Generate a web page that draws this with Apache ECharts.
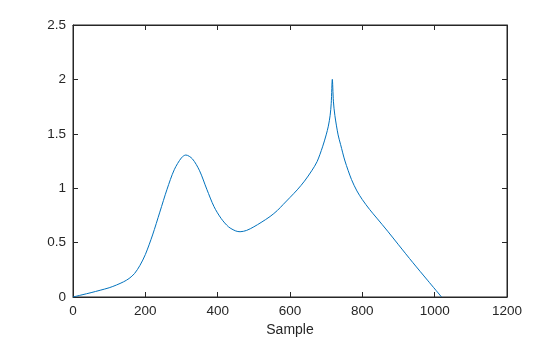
<!DOCTYPE html>
<html>
<head>
<meta charset="utf-8">
<script src="https://cdn.jsdelivr.net/npm/echarts@6/dist/echarts.min.js"></script>
<style>html,body{margin:0;padding:0;background:#fff;overflow:hidden}#c{width:560px;height:337px}</style>
</head>
<body>
<div id="c"></div>
<script>
const sampleX = [0, 25, 50, 75, 100, 120, 140, 155, 170, 185, 200, 220, 240, 260, 280, 300, 312, 330, 350, 370, 390, 410, 430, 450, 462, 480, 500, 520, 545, 565, 581, 600, 620, 640, 660, 675, 690, 700, 706, 711, 714, 717, 720, 724, 733, 740, 752, 770, 785, 800, 820, 840, 870, 900, 940, 980, 1019];
const sampleY = [0, 0.02, 0.04, 0.062, 0.085, 0.11, 0.14, 0.17, 0.215, 0.29, 0.39, 0.57, 0.78, 0.99, 1.17, 1.28, 1.305, 1.27, 1.16, 0.99, 0.83, 0.72, 0.645, 0.607, 0.6, 0.612, 0.645, 0.685, 0.74, 0.795, 0.85, 0.915, 0.985, 1.065, 1.16, 1.245, 1.38, 1.49, 1.57, 1.67, 1.78, 2.0, 1.80, 1.67, 1.49, 1.40, 1.25, 1.08, 0.975, 0.895, 0.805, 0.725, 0.605, 0.48, 0.315, 0.155, 0];
const xTicks = [0, 200, 400, 600, 800, 1000, 1200];
const yTicks = [0, 0.5, 1, 1.5, 2, 2.5];

const txt = '#262626';
const fontFam = 'Liberation Sans, Arial, Helvetica, sans-serif';
const chart = echarts.init(document.getElementById('c'), null, {renderer: 'canvas'});
const lineStyle = {color: txt, width: 1};
const tick = {show: true, inside: true, length: 5, lineStyle: {color: txt, width: 1}};
const fmt = v => String(v);
chart.setOption({
  animation: false,
  backgroundColor: '#fff',
  grid: {left: 73, right: 53, top: 25, bottom: 40, containLabel: false, outerBoundsMode: 'none',
         show: true, borderColor: txt, borderWidth: 1, backgroundColor: 'transparent'},
  xAxis: [{
    type: 'value', min: xTicks[0], max: xTicks[xTicks.length - 1], interval: 200,
    name: 'Sample', nameLocation: 'middle', nameGap: 25,
    nameTextStyle: {color: txt, fontSize: 14, fontFamily: fontFam},
    axisLine: {show: true, onZero: false, lineStyle: lineStyle},
    axisTick: tick,
    axisLabel: {color: txt, fontSize: 13.5, fontFamily: fontFam, margin: 7, formatter: fmt},
    splitLine: {show: false}
  }, {
    type: 'value', show: true, position: 'top', min: xTicks[0], max: xTicks[xTicks.length - 1], interval: 200,
    axisLine: {show: true, onZero: false, lineStyle: lineStyle},
    axisTick: tick, axisLabel: {show: false}, splitLine: {show: false}
  }],
  yAxis: [{
    type: 'value', min: yTicks[0], max: yTicks[yTicks.length - 1], interval: 0.5,
    axisLine: {show: true, onZero: false, lineStyle: lineStyle},
    axisTick: tick,
    axisLabel: {color: txt, fontSize: 13.5, fontFamily: fontFam, margin: 7, formatter: fmt},
    splitLine: {show: false}
  }, {
    type: 'value', show: true, position: 'right', min: yTicks[0], max: yTicks[yTicks.length - 1], interval: 0.5,
    axisLine: {show: true, onZero: false, lineStyle: lineStyle},
    axisTick: tick, axisLabel: {show: false}, splitLine: {show: false}
  }],
  series: [{
    type: 'line',
    data: sampleX.map((x, i) => [x, sampleY[i]]),
    showSymbol: false,
    smooth: 0.3,
    lineStyle: {color: '#0072BD', width: 1},
    xAxisIndex: 0, yAxisIndex: 0
  }, {
    type: 'line', data: [], xAxisIndex: 1, yAxisIndex: 1, showSymbol: false, silent: true
  }]
});
</script>
</body>
</html>
